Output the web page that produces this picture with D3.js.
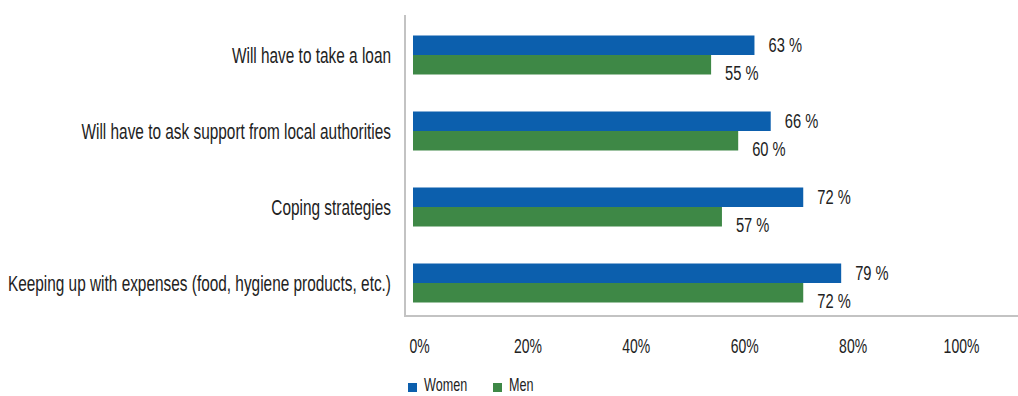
<!DOCTYPE html>
<html>
<head>
<meta charset="utf-8">
<script src="https://cdn.jsdelivr.net/npm/d3@7"></script>
<style>
  html, body { margin: 0; padding: 0; background: #ffffff; }
  svg { display: block; }
  text { font-family: "Liberation Sans", Arial, sans-serif; fill: #222222; }
</style>
</head>
<body>
<svg id="chart" width="1018" height="396"></svg>
<script>
// Answers per situation, top to bottom
const categories = [
  "Will have to take a loan",
  "Will have to ask support from local authorities",
  "Coping strategies",
  "Keeping up with expenses (food, hygiene products, etc.)"
];
const seriesNames = ["Women", "Men"];
const women = [63, 66, 72, 79];
const men = [55, 60, 57, 72];
const tickValues = [0, 20, 40, 60, 80, 100];
const colors = { Women: "#0c5fad", Men: "#3e8846" };

const W = 1018, H = 396;
const plot = { left: 405, top: 15, bottom: 316, right: 1018 };
const condense = 0.70; // horizontal squeeze to get a condensed face

const svg = d3.select("#chart");

const x = d3.scaleLinear().domain([0, 100]).range([413, 955]);
const y = d3.scaleBand().domain(categories).range([17, 321])
  .paddingInner(37 / 76).paddingOuter(37 / 152);
const sub = d3.scaleBand().domain(seriesNames).range([0, y.bandwidth()]);

const rows = categories.map((c, i) => ({ cat: c, Women: women[i], Men: men[i] }));

// Plot frame: left and bottom rules
svg.append("line")
  .attr("x1", plot.left).attr("x2", plot.left)
  .attr("y1", plot.top).attr("y2", plot.bottom + 1)
  .attr("stroke", "#c3c3c3").attr("stroke-width", 2);
svg.append("line")
  .attr("x1", plot.left - 1).attr("x2", plot.right)
  .attr("y1", plot.bottom).attr("y2", plot.bottom)
  .attr("stroke", "#c3c3c3").attr("stroke-width", 2);

// Squeezed text helper
function sqText(sel, tx, ty, size, anchor, str) {
  return sel.append("text")
    .attr("transform", `translate(${tx},${ty}) scale(${condense},1)`)
    .attr("font-size", size)
    .attr("text-anchor", anchor)
    .text(str);
}

// Bars
const groups = svg.append("g").selectAll("g.row").data(rows).join("g")
  .attr("class", "row")
  .attr("transform", d => `translate(0,${y(d.cat)})`);

groups.selectAll("rect").data(d => seriesNames.map(s => ({ s, v: d[s] }))).join("rect")
  .attr("x", x(0))
  .attr("y", d => sub(d.s))
  .attr("width", d => x(d.v) - x(0))
  .attr("height", sub.bandwidth())
  .attr("fill", d => colors[d.s]);

// Value labels
groups.each(function (d) {
  const g = d3.select(this);
  sqText(g, x(d.Women) + 14, 16, 21, "start", d.Women + " %");
  sqText(g, x(d.Men) + 14, 44, 21, "start", d.Men + " %");
});

// Category labels
categories.forEach(c => {
  sqText(svg, 391, y(c) + y.bandwidth() / 2 + 8, 22, "end", c);
});

// Percentage axis
const axis = svg.append("g")
  .attr("transform", `translate(6,${plot.bottom})`)
  .call(d3.axisBottom(x).tickValues(tickValues).tickSize(0).tickFormat(d => d + "%"));
axis.select(".domain").remove();
axis.selectAll(".tick text").each(function () {
  const t = d3.select(this);
  const str = t.text();
  const parent = d3.select(this.parentNode);
  t.remove();
  sqText(parent, 0, 37, 20, "middle", str);
});

// Legend
const legend = svg.append("g").attr("transform", "translate(408,383)");
const items = [{ s: "Women", dx: 0 }, { s: "Men", dx: 85 }];
items.forEach(it => {
  legend.append("rect").attr("x", it.dx).attr("y", 0).attr("width", 9).attr("height", 9)
    .attr("fill", colors[it.s]);
  sqText(legend, it.dx + 16, 8, 18, "start", it.s);
});
</script>
</body>
</html>
